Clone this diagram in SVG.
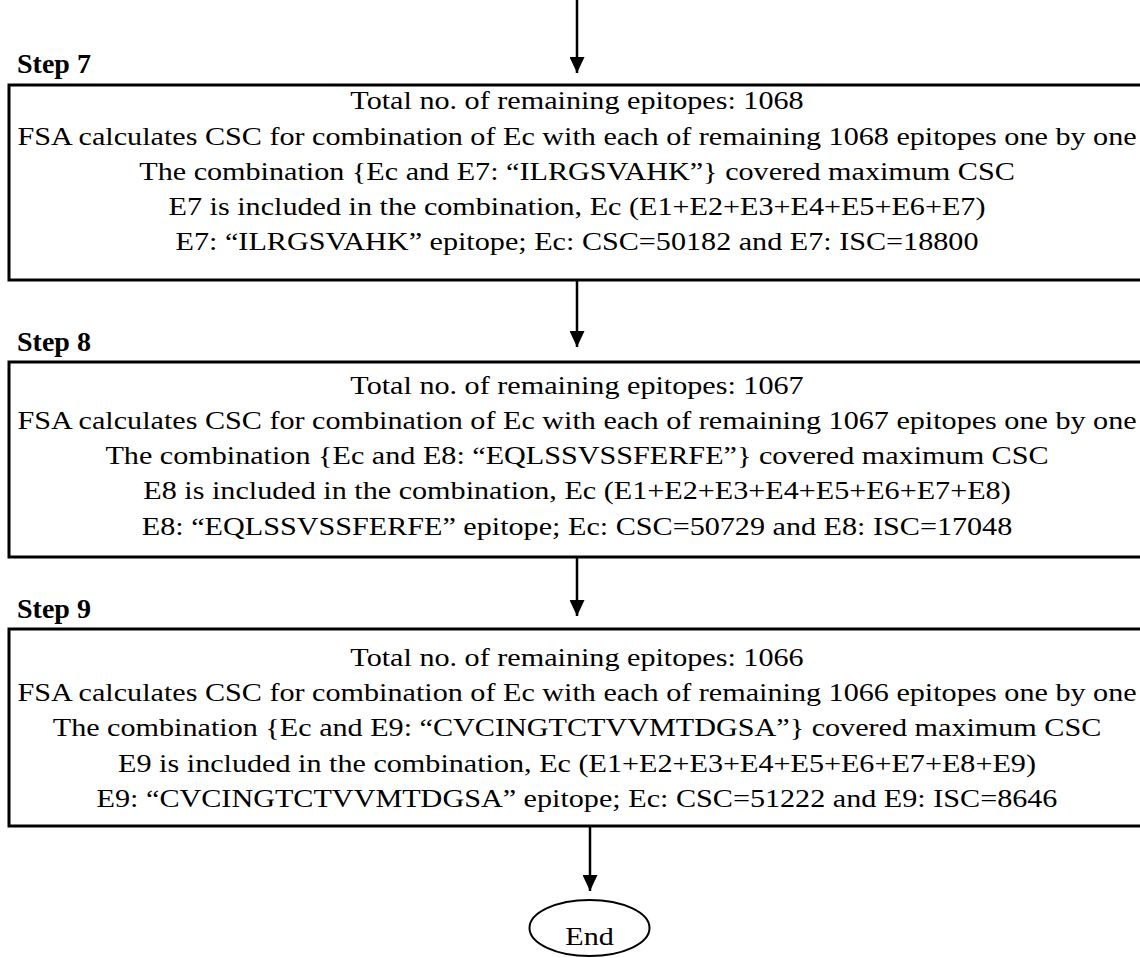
<svg xmlns="http://www.w3.org/2000/svg" width="1140" height="958" viewBox="0 0 1140 958">
  <style>
    .box { fill: #fff; stroke: #000; stroke-width: 3; }
    .label { font-family: "Liberation Serif", "Times New Roman", serif; font-weight: bold; font-size: 28px; fill: #000; }
    .body { font-family: "Liberation Serif", "Times New Roman", serif; font-size: 26px; fill: #000; text-anchor: middle; }
    .link { stroke: #000; stroke-width: 2.5; fill: none; marker-end: url(#head); }
    .term { fill: #fff; stroke: #000; stroke-width: 2; }
  </style>
  <defs>
    <!-- filled triangular arrowhead, tip at the line end -->
    <marker id="head" viewBox="0 0 16 15" refX="16" refY="7.5" markerWidth="16" markerHeight="15" markerUnits="userSpaceOnUse" orient="auto">
      <path d="M0,0 L16,7.5 L0,15 Z" fill="#000"/>
    </marker>
  </defs>
  <rect width="1140" height="958" fill="#fff"/>

  <!-- connectors -->
  <g id="connectors">
    <line class="link" x1="577" y1="0" x2="577" y2="73"/>
    <line class="link" x1="577" y1="281" x2="577" y2="347"/>
    <line class="link" x1="577" y1="558" x2="577" y2="616"/>
    <line class="link" x1="590" y1="827" x2="590" y2="891"/>
  </g>

  <!-- step 7 -->
  <g id="step7">
    <text class="label" x="17" y="73">Step 7</text>
    <rect class="box" x="9" y="85" width="1150" height="195"/>
    <g transform="matrix(1.16,0,0,1,-92.3,0)">
      <text class="body" x="577" y="109">Total no. of remaining epitopes: 1068</text>
      <text class="body" x="577" y="145">FSA calculates CSC for combination of Ec with each of remaining 1068 epitopes one by one</text>
      <text class="body" x="577" y="180">The combination {Ec and E7: “ILRGSVAHK”} covered maximum CSC</text>
      <text class="body" x="577" y="215">E7 is included in the combination, Ec (E1+E2+E3+E4+E5+E6+E7)</text>
      <text class="body" x="577" y="250">E7: “ILRGSVAHK” epitope; Ec: CSC=50182 and E7: ISC=18800</text>
    </g>
  </g>

  <!-- step 8 -->
  <g id="step8">
    <text class="label" x="17" y="351">Step 8</text>
    <rect class="box" x="9" y="362" width="1150" height="195"/>
    <g transform="matrix(1.16,0,0,1,-92.3,0)">
      <text class="body" x="577" y="394">Total no. of remaining epitopes: 1067</text>
      <text class="body" x="577" y="429">FSA calculates CSC for combination of Ec with each of remaining 1067 epitopes one by one</text>
      <text class="body" x="577" y="464">The combination {Ec and E8: “EQLSSVSSFERFE”} covered maximum CSC</text>
      <text class="body" x="577" y="499">E8 is included in the combination, Ec (E1+E2+E3+E4+E5+E6+E7+E8)</text>
      <text class="body" x="577" y="535">E8: “EQLSSVSSFERFE” epitope; Ec: CSC=50729 and E8: ISC=17048</text>
    </g>
  </g>

  <!-- step 9 -->
  <g id="step9">
    <text class="label" x="17" y="618">Step 9</text>
    <rect class="box" x="9" y="629" width="1150" height="197"/>
    <g transform="matrix(1.16,0,0,1,-92.3,0)">
      <text class="body" x="577" y="666">Total no. of remaining epitopes: 1066</text>
      <text class="body" x="577" y="701">FSA calculates CSC for combination of Ec with each of remaining 1066 epitopes one by one</text>
      <text class="body" x="577" y="736">The combination {Ec and E9: “CVCINGTCTVVMTDGSA”} covered maximum CSC</text>
      <text class="body" x="577" y="772">E9 is included in the combination, Ec (E1+E2+E3+E4+E5+E6+E7+E8+E9)</text>
      <text class="body" x="577" y="807">E9: “CVCINGTCTVVMTDGSA” epitope; Ec: CSC=51222 and E9: ISC=8646</text>
    </g>
  </g>

  <!-- terminator -->
  <g id="end">
    <ellipse class="term" cx="589.5" cy="928" rx="60" ry="28"/>
    <g transform="matrix(1.16,0,0,1,-94.3,0)">
      <text class="body" x="589.5" y="945">End</text>
    </g>
  </g>
</svg>
